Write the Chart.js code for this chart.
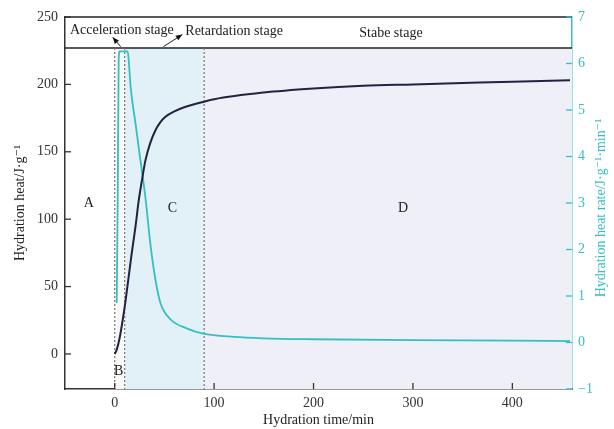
<!DOCTYPE html>
<html lang="en">
<head>
  <meta charset="UTF-8">
  <title>Hydration heat</title>
  <style>
    body { margin: 0; padding: 0; background: #fff; }
    .wrap { width: 614px; height: 429px; }
  </style>
</head>
<body>
  <div class="wrap"><canvas id="heatChart" width="614" height="429"></canvas></div>

  <script src="https://cdn.jsdelivr.net/npm/chart.js"></script>
  <script>
    // cumulative hydration heat (left axis)
    const heatTime  = [0, 2, 5, 8, 11, 14, 17, 21, 24, 27, 31, 36, 41, 46, 51, 60, 70, 89, 100, 150, 200, 250, 300, 350, 400, 458];
    const heatValue = [0, 3, 12, 25, 40, 57, 74, 95, 113, 127, 144, 157, 166, 172, 176, 180, 183, 187, 189, 194, 197, 199, 200, 201, 202, 203];

    // hydration heat rate (right axis)
    const rateTime  = [2, 3, 4, 5, 13, 14, 16, 21, 26, 31, 36, 41, 46, 56, 73, 89, 120, 150, 200, 300, 400, 458];
    const rateValue = [0.85, 3.0, 6.1, 6.26, 6.26, 6.1, 5.5, 4.7, 3.9, 3.1, 2.1, 1.35, 0.85, 0.5, 0.3, 0.19, 0.12, 0.09, 0.07, 0.05, 0.04, 0.03];

    const xTicks = [0, 100, 200, 300, 400];
    const leftTicks = [0, 50, 100, 150, 200, 250];
    const rightTicks = [-1, 0, 1, 2, 3, 4, 5, 6, 7];

    // stage boundaries (min) and header band bottom (left axis units)
    const stageBounds = [0, 10, 90];
    const bandBottom = 227;

    const FONT = '"Liberation Serif", "DejaVu Serif", serif';
    const CYAN = '#35bfc0';
    const DARK = '#23233f';

    const stagePlugin = {
      id: 'stages',
      beforeDatasetsDraw(chart) {
        const { ctx, chartArea: a, scales } = chart;
        const x = scales.x, y = scales.y;
        const yb = y.getPixelForValue(bandBottom);
        const x0 = x.getPixelForValue(stageBounds[0]);
        const x1 = x.getPixelForValue(stageBounds[1]);
        const x2 = x.getPixelForValue(stageBounds[2]);
        ctx.save();
        // C and D shading
        ctx.fillStyle = '#e1f1f7';
        ctx.fillRect(x1, yb, x2 - x1, a.bottom - yb);
        ctx.fillStyle = '#efeff8';
        ctx.fillRect(x2, yb, a.right - x2, a.bottom - yb);
        ctx.fillStyle = '#f8f8f8';
        ctx.fillRect(x0, yb, x1 - x0, a.bottom - yb);
        // band line
        ctx.strokeStyle = '#222';
        ctx.lineWidth = 1.3;
        ctx.beginPath();
        ctx.moveTo(a.left, yb); ctx.lineTo(a.right, yb);
        ctx.stroke();
        // dashed stage lines
        ctx.strokeStyle = '#777';
        ctx.lineWidth = 1.2;
        ctx.setLineDash([2, 2]);
        [x0, x1, x2].forEach(px => {
          ctx.beginPath();
          ctx.moveTo(px, yb); ctx.lineTo(px, a.bottom);
          ctx.stroke();
        });
        ctx.restore();
      },
      afterDatasetsDraw(chart) {
        const { ctx, chartArea: a, scales } = chart;
        const x = scales.x, y = scales.y, y2 = scales.y2;
        ctx.save();
        // top border
        ctx.strokeStyle = '#222';
        ctx.lineWidth = 1.5;
        ctx.beginPath();
        ctx.moveTo(a.left, a.top); ctx.lineTo(a.right, a.top);
        ctx.stroke();

        // inward ticks
        ctx.lineWidth = 1.3;
        ctx.strokeStyle = '#333';
        xTicks.forEach(v => {
          const px = x.getPixelForValue(v);
          ctx.beginPath(); ctx.moveTo(px, a.bottom); ctx.lineTo(px, a.bottom - 6); ctx.stroke();
        });
        leftTicks.forEach(v => {
          const py = y.getPixelForValue(v);
          ctx.beginPath(); ctx.moveTo(a.left, py); ctx.lineTo(a.left + 6, py); ctx.stroke();
        });
        ctx.strokeStyle = CYAN;
        rightTicks.forEach(v => {
          const py = y2.getPixelForValue(v);
          ctx.beginPath(); ctx.moveTo(a.right, py); ctx.lineTo(a.right - 6, py); ctx.stroke();
        });

        // header texts
        ctx.fillStyle = '#222';
        ctx.font = '14px ' + FONT;
        ctx.textBaseline = 'middle';
        ctx.textAlign = 'left';
        ctx.fillText('Acceleration stage', x.getPixelForValue(-45), y.getPixelForValue(240));
        ctx.fillText('Retardation stage', x.getPixelForValue(71), y.getPixelForValue(239));
        ctx.fillText('Stabe stage', x.getPixelForValue(246), y.getPixelForValue(238));

        // stage letters
        ctx.textAlign = 'center';
        ctx.fillText('A', x.getPixelForValue(-26), y.getPixelForValue(112));
        ctx.fillText('B', x.getPixelForValue(4), y.getPixelForValue(-13));
        ctx.fillText('C', x.getPixelForValue(58), y.getPixelForValue(108));
        ctx.fillText('D', x.getPixelForValue(290), y.getPixelForValue(108));

        // arrows
        const arrow = (tx, ty, hx, hy) => {
          const sx = x.getPixelForValue(tx), sy = y.getPixelForValue(ty);
          const ex = x.getPixelForValue(hx), ey = y.getPixelForValue(hy);
          ctx.strokeStyle = '#222';
          ctx.lineWidth = 1;
          ctx.beginPath(); ctx.moveTo(sx, sy); ctx.lineTo(ex, ey); ctx.stroke();
          const ang = Math.atan2(ey - sy, ex - sx);
          ctx.fillStyle = '#111';
          ctx.beginPath();
          ctx.moveTo(ex, ey);
          ctx.lineTo(ex - 7 * Math.cos(ang - 0.4), ey - 7 * Math.sin(ang - 0.4));
          ctx.lineTo(ex - 7 * Math.cos(ang + 0.4), ey - 7 * Math.sin(ang + 0.4));
          ctx.closePath();
          ctx.fill();
        };
        arrow(6, 228, -2, 235);
        arrow(49, 228, 68, 237);

        // right axis title, reading bottom to top
        ctx.translate(y2.right - 13, (a.top + a.bottom) / 2 + 5);
        ctx.rotate(-Math.PI / 2);
        ctx.fillStyle = CYAN;
        ctx.textAlign = 'center';
        ctx.fillText('Hydration heat rate/J·g⁻¹·min⁻¹', 0, 0);
        ctx.restore();
      }
    };

    const ctx = document.getElementById('heatChart').getContext('2d');
    const heatChart = new Chart(ctx, {
      type: 'scatter',
      data: {
        datasets: [{
          label: 'Hydration heat',
          data: heatTime.map((t, i) => ({ x: t, y: heatValue[i] })),
          yAxisID: 'y',
          showLine: true,
          borderColor: DARK,
          borderWidth: 2,
          pointRadius: 0,
          cubicInterpolationMode: 'monotone'
        }, {
          label: 'Hydration heat rate',
          data: rateTime.map((t, i) => ({ x: t, y: rateValue[i] })),
          yAxisID: 'y2',
          showLine: true,
          borderColor: CYAN,
          borderWidth: 1.8,
          pointRadius: 0,
          cubicInterpolationMode: 'monotone'
        }]
      },
      options: {
        responsive: false,
        animation: false,
        layout: { padding: { top: 17 } },
        plugins: { legend: { display: false }, tooltip: { enabled: false } },
        scales: {
          x: {
            type: 'linear', min: -50, max: 460,
            afterBuildTicks: s => { s.ticks = xTicks.map(v => ({ value: v })); },
            afterFit: s => { s.height = 40; },
            grid: { drawOnChartArea: false, drawTicks: false },
            border: { color: '#333', width: 1.5 },
            ticks: { color: '#333', padding: 6, font: { family: FONT, size: 14 } },
            title: { display: true, text: 'Hydration time/min', color: '#222', padding: 0, font: { family: FONT, size: 14 } }
          },
          y: {
            position: 'left', min: -26, max: 250,
            afterBuildTicks: s => { s.ticks = leftTicks.map(v => ({ value: v })); },
            afterFit: s => { s.width = 65; },
            grid: { drawOnChartArea: false, drawTicks: false },
            border: { color: '#333', width: 1.5 },
            ticks: { color: '#333', padding: 7, font: { family: FONT, size: 14 } },
            title: { display: true, text: 'Hydration heat/J·g⁻¹', color: '#222', padding: { top: 12, bottom: 0 }, font: { family: FONT, size: 14 } }
          },
          y2: {
            position: 'right', min: -1, max: 7,
            afterBuildTicks: s => { s.ticks = rightTicks.map(v => ({ value: v })); },
            afterFit: s => { s.width = 42; },
            grid: { drawOnChartArea: false, drawTicks: false },
            border: { color: CYAN, width: 1.5 },
            ticks: { color: CYAN, padding: 6, font: { family: FONT, size: 14 }, callback: v => v < 0 ? '−' + Math.abs(v) : v }
          }
        }
      },
      plugins: [stagePlugin]
    });
  </script>
</body>
</html>
